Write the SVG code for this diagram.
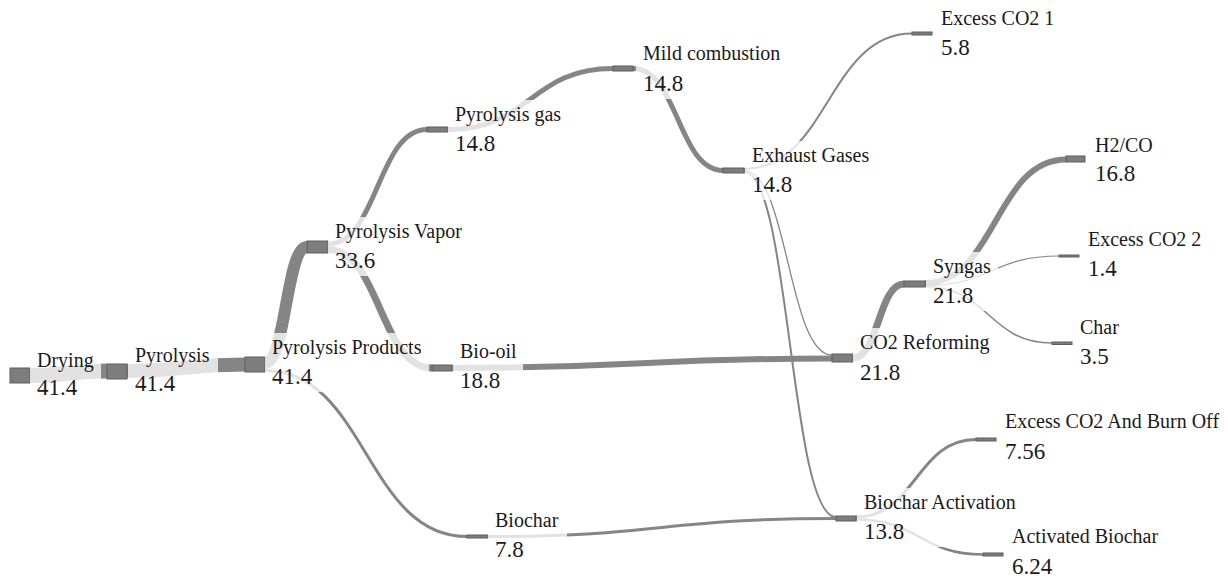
<svg xmlns="http://www.w3.org/2000/svg" width="1228" height="579" viewBox="0 0 1228 579">
  <style>
    .link { fill: none; stroke: #858585; }
    .node rect.box { fill: #7d7d7d; stroke: #5e5e5e; stroke-width: 1; }
    .halo { fill: #ffffff; fill-opacity: 0.76; }
    .name { font-family: "Liberation Serif", "Times New Roman", serif; font-size: 20px; fill: #1a1a1a; }
    .value { font-family: "Liberation Serif", "Times New Roman", serif; font-size: 23px; fill: #1a1a1a; }
  </style>
  <rect width="1228" height="579" fill="#ffffff"/>

  <!-- flows between stages -->
  <g id="links">
    <path class="link" stroke-width="15" d="M30 375.5 C68.5 375.5 68.5 371 107 371"/>
    <path class="link" stroke-width="14" d="M127 371 C186 371 186 364.5 245 364.5"/>
    <path class="link" stroke-width="12" d="M265 363 C286 363 286 247 307 247"/>
    <path class="link" stroke-width="3" d="M265 370.5 C366 370.5 366 536.5 467 536.5"/>
    <path class="link" stroke-width="5" d="M328 244 C377.5 244 377.5 129.5 427 129.5"/>
    <path class="link" stroke-width="7" d="M328 249.5 C380 249.5 380 368 432 368"/>
    <path class="link" stroke-width="5" d="M448 129.5 C530.5 129.5 530.5 68.5 613 68.5"/>
    <path class="link" stroke-width="5" d="M633 68.5 C678 68.5 678 170.5 723 170.5"/>
    <path class="link" stroke-width="2" d="M744 169 C828 169 828 33.5 912 33.5"/>
    <path class="link" stroke-width="1.3" d="M744 170.6 C788 170.6 788 355 832 355"/>
    <path class="link" stroke-width="2" d="M744 172 C790 172 790 517 836 517"/>
    <path class="link" stroke-width="6" d="M452 368 C642 368 642 358.5 832 358.5"/>
    <path class="link" stroke-width="7" d="M853 358 C878.5 358 878.5 284 904 284"/>
    <path class="link" stroke-width="6" d="M925 283 C995.5 283 995.5 159.5 1066 159.5"/>
    <path class="link" stroke-width="1.2" d="M925 285.5 C992 285.5 992 256 1059 256"/>
    <path class="link" stroke-width="1.6" d="M925 286.5 C988.5 286.5 988.5 343 1052 343"/>
    <path class="link" stroke-width="3" d="M488 536.5 C662 536.5 662 518.5 836 518.5"/>
    <path class="link" stroke-width="3" d="M856 517 C916 517 916 439.5 976 439.5"/>
    <path class="link" stroke-width="2.5" d="M856 519.5 C919.5 519.5 919.5 554.5 983 554.5"/>
  </g>

  <!-- process stages: bar, label halo, name and amount -->
  <g id="drying" class="node">
    <rect class="box" x="10" y="368" width="20" height="15"/>
    <rect class="halo" x="30" y="346" width="71" height="57"/>
    <text class="name" x="37" y="367">Drying</text>
    <text class="value" x="37" y="395">41.4</text>
  </g>
  <g id="pyrolysis" class="node">
    <rect class="box" x="107" y="364" width="20" height="15"/>
    <rect class="halo" x="128" y="341" width="90" height="58"/>
    <text class="name" x="135" y="362">Pyrolysis</text>
    <text class="value" x="135" y="391">41.4</text>
  </g>
  <g id="pyrolysis-products" class="node">
    <rect class="box" x="245" y="357" width="20" height="15"/>
    <rect class="halo" x="265" y="333" width="164" height="59"/>
    <text class="name" x="272" y="354">Pyrolysis Products</text>
    <text class="value" x="272" y="384">41.4</text>
  </g>
  <g id="pyrolysis-vapor" class="node">
    <rect class="box" x="307" y="241" width="21" height="12"/>
    <rect class="halo" x="328" y="217" width="143" height="59"/>
    <text class="name" x="335" y="238">Pyrolysis Vapor</text>
    <text class="value" x="335" y="268">33.6</text>
  </g>
  <g id="pyrolysis-gas" class="node">
    <rect class="box" x="427" y="127" width="21" height="5"/>
    <rect class="halo" x="448" y="100" width="120" height="59"/>
    <text class="name" x="455" y="121">Pyrolysis gas</text>
    <text class="value" x="455" y="151">14.8</text>
  </g>
  <g id="mild-combustion" class="node">
    <rect class="box" x="613" y="66" width="20" height="5"/>
    <rect class="halo" x="636" y="39" width="151" height="60"/>
    <text class="name" x="643" y="60">Mild combustion</text>
    <text class="value" x="643" y="91">14.8</text>
  </g>
  <g id="exhaust-gases" class="node">
    <rect class="box" x="723" y="168" width="21" height="5"/>
    <rect class="halo" x="745" y="141" width="131" height="59"/>
    <text class="name" x="752" y="162">Exhaust Gases</text>
    <text class="value" x="752" y="192">14.8</text>
  </g>
  <g id="excess-co2-1" class="node">
    <rect class="box" x="912" y="32" width="20" height="3"/>
    <rect class="halo" x="934" y="4" width="127" height="59"/>
    <text class="name" x="941" y="25">Excess CO2 1</text>
    <text class="value" x="941" y="55">5.8</text>
  </g>
  <g id="h2-co" class="node">
    <rect class="box" x="1066" y="156" width="19" height="6"/>
    <rect class="halo" x="1088" y="131" width="72" height="58"/>
    <text class="name" x="1095" y="152">H2/CO</text>
    <text class="value" x="1095" y="181">16.8</text>
  </g>
  <g id="excess-co2-2" class="node">
    <rect class="box" x="1059" y="255" width="20" height="2"/>
    <rect class="halo" x="1081" y="225" width="127" height="59"/>
    <text class="name" x="1088" y="246">Excess CO2 2</text>
    <text class="value" x="1088" y="276">1.4</text>
  </g>
  <g id="char" class="node">
    <rect class="box" x="1052" y="342" width="20" height="2.5"/>
    <rect class="halo" x="1073" y="313" width="53" height="59"/>
    <text class="name" x="1080" y="334">Char</text>
    <text class="value" x="1080" y="364">3.5</text>
  </g>
  <g id="syngas" class="node">
    <rect class="box" x="904" y="281" width="21" height="6"/>
    <rect class="halo" x="926" y="252" width="72" height="59"/>
    <text class="name" x="933" y="273">Syngas</text>
    <text class="value" x="933" y="303">21.8</text>
  </g>
  <g id="co2-reforming" class="node">
    <rect class="box" x="832" y="354" width="21" height="8"/>
    <rect class="halo" x="853" y="328" width="143" height="60"/>
    <text class="name" x="860" y="349">CO2 Reforming</text>
    <text class="value" x="860" y="380">21.8</text>
  </g>
  <g id="bio-oil" class="node">
    <rect class="box" x="432" y="365" width="20" height="6"/>
    <rect class="halo" x="453" y="337" width="70" height="59"/>
    <text class="name" x="460" y="358">Bio-oil</text>
    <text class="value" x="460" y="388">18.8</text>
  </g>
  <g id="biochar" class="node">
    <rect class="box" x="467" y="535" width="21" height="3"/>
    <rect class="halo" x="488" y="506" width="79" height="59"/>
    <text class="name" x="495" y="527">Biochar</text>
    <text class="value" x="495" y="557">7.8</text>
  </g>
  <g id="biochar-activation" class="node">
    <rect class="box" x="836" y="516" width="20" height="5"/>
    <rect class="halo" x="857" y="488" width="172" height="59"/>
    <text class="name" x="864" y="509">Biochar Activation</text>
    <text class="value" x="864" y="539">13.8</text>
  </g>
  <g id="excess-co2-burn-off" class="node">
    <rect class="box" x="976" y="438" width="20" height="3"/>
    <rect class="halo" x="998" y="407" width="230" height="60"/>
    <text class="name" x="1005" y="428">Excess CO2 And Burn Off</text>
    <text class="value" x="1005" y="459">7.56</text>
  </g>
  <g id="activated-biochar" class="node">
    <rect class="box" x="983" y="553" width="20" height="3"/>
    <rect class="halo" x="1005" y="522" width="160" height="57"/>
    <text class="name" x="1012" y="543">Activated Biochar</text>
    <text class="value" x="1012" y="574">6.24</text>
  </g>
</svg>
